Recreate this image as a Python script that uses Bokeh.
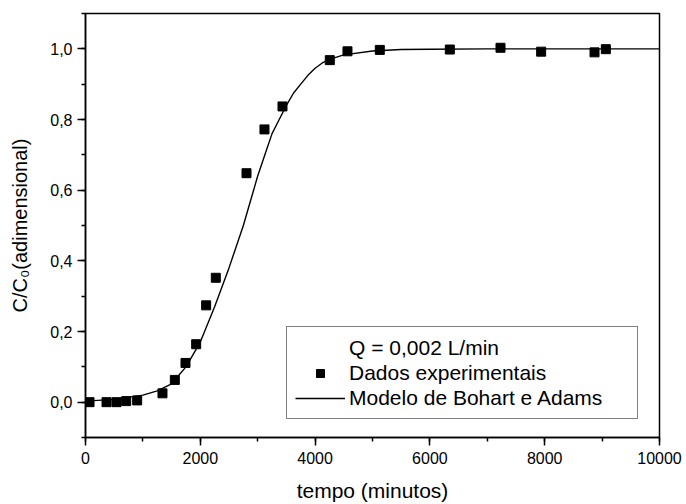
from bokeh.plotting import figure
from bokeh.models import (Range1d, SingleIntervalTicker, CustomJSTickFormatter,
                          Legend, LegendItem)
from bokeh.embed import file_html
from bokeh.resources import INLINE

tempo_exp = [70, 366, 540, 709, 900, 1341, 1556, 1742, 1928, 2102, 2270,
             2805, 3118, 3432, 4256, 4564, 5127, 6347, 7230, 7938, 8868, 9065]
cc0_exp = [0.0, 0.0, 0.0, 0.003, 0.005, 0.025, 0.063, 0.111, 0.164, 0.274, 0.352,
           0.648, 0.772, 0.837, 0.968, 0.993, 0.997, 0.998, 1.003, 0.992, 0.990, 0.999]

# Bohart-Adams model curve
tempo_mod = [0, 500, 1000, 1250, 1500, 1750, 2000, 2250, 2500, 2625, 2750, 2875,
             3000, 3125, 3250, 3375, 3500, 3625, 3750, 3875, 4000, 4125, 4250,
             4500, 5000, 5500, 6000, 7000, 8000, 9000, 10000]
cc0_mod = [0.003, 0.008, 0.02, 0.032, 0.052, 0.10, 0.17, 0.27, 0.38, 0.44, 0.50, 0.57,
           0.64, 0.70, 0.76, 0.80, 0.84, 0.875, 0.90, 0.925, 0.945, 0.96, 0.97,
           0.983, 0.994, 0.998, 0.999, 1.0, 1.0, 1.0, 1.0]

legend_title = "Q = 0,002 L/min"
label_exp = "Dados experimentais"
label_mod = "Modelo de Bohart e Adams"
x_title = "tempo (minutos)"
y_title = "C/C\u2080(adimensional)"

FONT = "Liberation Sans"

p = figure(width=686, height=504, output_backend="svg", toolbar_location=None,
           x_range=Range1d(0, 10000), y_range=Range1d(-0.1, 1.1),
           min_border_left=85, min_border_right=27, min_border_top=13,
           min_border_bottom=66)

p.xgrid.visible = False
p.ygrid.visible = False
p.outline_line_color = "black"
p.outline_line_width = 1.5

dummy = p.scatter(x=[], y=[], marker="square", fill_alpha=0, line_alpha=0)
r_mod = p.line(tempo_mod, cc0_mod, line_color="black", line_width=1.4)
r_exp = p.scatter(tempo_exp, cc0_exp, marker="square", size=9,
                  fill_color="black", line_color="black")

p.xaxis.ticker = SingleIntervalTicker(interval=2000, num_minor_ticks=2)
p.yaxis.ticker = SingleIntervalTicker(interval=0.2, num_minor_ticks=2)
p.xaxis.formatter = CustomJSTickFormatter(code="return tick.toFixed(0);")
p.yaxis.formatter = CustomJSTickFormatter(code="return tick.toFixed(1).replace('.', ',');")

for ax in (p.xaxis[0], p.yaxis[0]):
    ax.axis_line_width = 1.5
    ax.major_tick_line_width = 1.5
    ax.minor_tick_line_width = 1.5
    ax.major_tick_out = 8
    ax.major_tick_in = 0
    ax.minor_tick_out = 4
    ax.minor_tick_in = 0
    ax.major_label_text_font = FONT
    ax.major_label_text_font_size = "16px"
    ax.major_label_text_color = "black"
    ax.axis_label_text_font = FONT
    ax.axis_label_text_font_size = "21px"
    ax.axis_label_text_font_style = "normal"
    ax.axis_label_text_color = "black"

p.xaxis.axis_label = x_title
p.yaxis.axis_label = y_title
p.yaxis.axis_label_text_font_size = "20px"
p.xaxis.major_label_standoff = 6
p.yaxis.major_label_standoff = 5
p.xaxis.axis_label_standoff = 12
p.yaxis.axis_label_standoff = 16

legend = Legend(items=[LegendItem(label=legend_title, renderers=[dummy]),
                       LegendItem(label=label_exp, renderers=[r_exp]),
                       LegendItem(label=label_mod, renderers=[r_mod])],
                location=(201, 18))
legend.label_text_font = FONT
legend.label_text_font_size = "21px"
legend.label_text_color = "black"
legend.label_height = 25
legend.label_width = 280
legend.glyph_height = 20
legend.glyph_width = 50
legend.label_standoff = 4
legend.spacing = 0
legend.padding = 8
legend.margin = 0
legend.border_line_color = "black"
legend.border_line_width = 1
legend.background_fill_alpha = 1
p.add_layout(legend)

open("out.html", "w").write(file_html(p, INLINE))
